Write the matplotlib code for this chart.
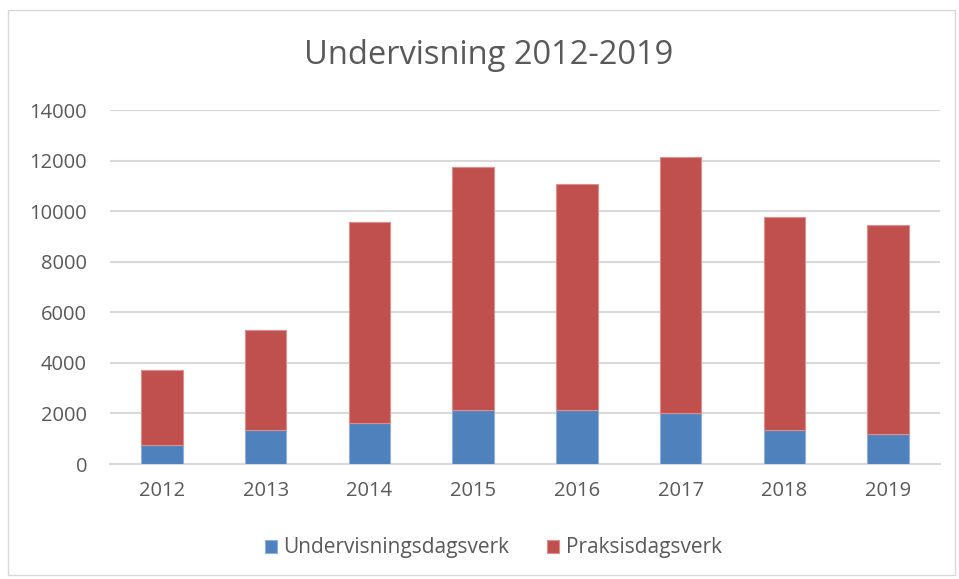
import matplotlib.pyplot as plt
from matplotlib.patches import Rectangle
import numpy as np

plt.rcParams['font.family'] = ['Open Sans', 'DejaVu Sans']

# data
years = ['2012', '2013', '2014', '2015', '2016', '2017', '2018', '2019']
undervisning = [770, 1335, 1610, 2155, 2140, 2020, 1360, 1205]
praksis = [2940, 3965, 7960, 9605, 8935, 10125, 8410, 8235]

blue = '#4F81BD'
red = '#C0504D'
grey_txt = '#595959'

fig = plt.figure(figsize=(9.59, 5.79), dpi=100)
ax = fig.add_axes([110 / 959, 1 - 464 / 579, 830 / 959, 354 / 579])

x = np.arange(len(years))
ax.bar(x, undervisning, width=0.4, color=blue, edgecolor='#8eaedb', linewidth=0.8, zorder=3,
       label='Undervisningsdagsverk')
ax.bar(x, praksis, width=0.4, bottom=undervisning, color=red, edgecolor='#dc8f8d', linewidth=0.8,
       zorder=3, label='Praksisdagsverk')

ax.set_xlim(-0.5, len(years) - 0.5)
ax.set_ylim(0, 14000)
ax.set_yticks(range(0, 14001, 2000))
ax.set_xticks(x)
ax.set_xticklabels(years)
ax.tick_params(axis='both', length=0, labelsize=14.5, colors=grey_txt)
ax.tick_params(axis='y', pad=16.5)
ax.tick_params(axis='x', pad=12)
ax.grid(axis='y', color='#d9d9d9', linewidth=1.5, zorder=0)
for s in ['top', 'right', 'left']:
    ax.spines[s].set_visible(False)
ax.spines['bottom'].set_color('#d9d9d9')
ax.spines['bottom'].set_linewidth(1.5)

fig.text(489 / 959, 1 - 55 / 579, 'Undervisning 2012-2019', ha='center', va='center',
         fontsize=23.5, color=grey_txt)

leg = fig.legend(loc='center', bbox_to_anchor=(493 / 959, 1 - 548 / 579), ncol=2, frameon=False,
                 fontsize=15, handlelength=0.6, handleheight=0.6, columnspacing=1.8,
                 handletextpad=0.3)
for t in leg.get_texts():
    t.set_color(grey_txt)

# outer chart border
fig.patches.append(Rectangle((8 / 959, 4 / 579), 947 / 959, 565 / 579, transform=fig.transFigure,
                             fill=False, edgecolor='#d9d9d9', linewidth=1))

fig.savefig('out.png', dpi=100)
